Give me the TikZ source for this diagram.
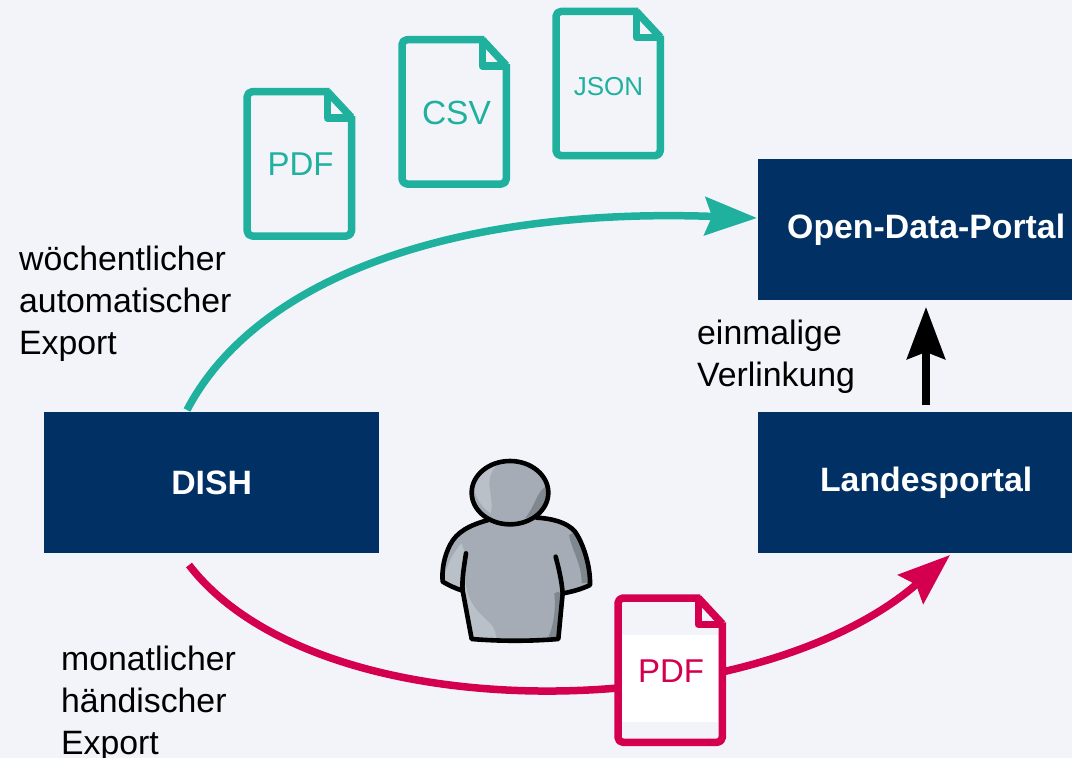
\documentclass[tikz,border=0pt]{standalone}
\usepackage{fontspec}
\setmainfont{Liberation Sans}
\usetikzlibrary{arrows.meta}
\definecolor{pagebg}{HTML}{F2F4F9}
\definecolor{navy}{HTML}{003064}
\definecolor{tealc}{HTML}{1FB19E}
\definecolor{redc}{HTML}{D4004F}
\definecolor{persbody}{HTML}{A5ACB5}
\definecolor{perslight}{HTML}{B9C0C8}
\definecolor{persdark}{HTML}{7F878F}
\tikzset{
  portal/.style={fill=navy,draw=none,text=white,font=\fontsize{33.8}{40}\selectfont\bfseries,anchor=north west,inner sep=0pt},
  lbl/.style={font=\fontsize{33.8}{42}\selectfont,anchor=north west,inner sep=0pt,align=left,text=black},
  flow/.style={line width=7.5pt,line cap=butt},
  bigtip/.style={-{Stealth[length=52pt,width=38pt,inset=7pt]}},
  docline/.style={line width=7.5pt,line join=round},
  perso/.style={draw=black,line width=4.6pt,line join=round,line cap=round}
}
\newcommand{\docicon}[4]{%
  \begin{scope}[shift={(#1,#2)}]
    \path[fill=pagebg] (3.7,8) -- (86,3.7) -- (108,28) -- (108,148) -- (3.7,148) -- cycle;
    #4
    \draw[docline,draw=#3,rounded corners=5pt] (86,3.7) -- (3.7,3.7) -- (3.7,148) -- (108,148) -- (108,28);
    \draw[docline,draw=#3] (84,3.7) -- (108,29.5);
    \draw[docline,draw=#3] (84,3.7) -- (84,30) -- (108,30);
  \end{scope}}
\begin{document}
\begin{tikzpicture}[x=1pt,y=-1pt]
\useasboundingbox (0,0) rectangle (1072,758);
\fill[pagebg] (0,0) rectangle (1072,758);

\node[portal,minimum width=314pt,minimum height=141pt] (odp) at (758,159) {\hspace*{22pt}Open-Data-Portal};
\node[portal,minimum width=314pt,minimum height=141pt] (landes) at (758,412) {\hspace*{22pt}Landesportal};
\node[portal,minimum width=335pt,minimum height=141pt] (dish) at (44,412) {DISH};

\node[lbl] (lblw) at (19,246) {wöchentlicher\\automatischer\\Export};
\node[lbl] (lblm) at (61,646) {monatlicher\\händischer\\Export};
\node[lbl] (lble) at (697,320) {einmalige\\Verlinkung};

\coordinate (tealstart) at (187,410);
\coordinate (tealend) at (757,218);
\coordinate (redstart) at (189,565);
\coordinate (redend) at (950,555);
\coordinate (blackstart) at (926,405);
\coordinate (blackend) at (926,307);

\draw[flow,draw=tealc,bigtip] (tealstart) .. controls (255,280) and (450,207) .. (tealend);
\draw[flow,draw=redc,bigtip] (redstart) .. controls (320,735) and (755,725) .. (redend);
\draw[flow,draw=black,bigtip] (blackstart) -- (blackend);

\docicon{243.5}{88}{tealc}{}
\node[text=tealc,font=\fontsize{33}{33}\selectfont,inner sep=0pt] (pdfteal) at (300.5,164) {PDF};
\docicon{398.3}{36}{tealc}{}
\node[text=tealc,font=\fontsize{33.5}{33.5}\selectfont,inner sep=0pt] (csv) at (456.5,113) {CSV};
\docicon{552.3}{7.7}{tealc}{}
\node[text=tealc,font=\fontsize{26}{26}\selectfont,inner sep=0pt] (json) at (608.5,87) {JSON};
\docicon{614.3}{594.3}{redc}{\fill[white] (7,41) rectangle (104,127.5);}
\node[text=redc,font=\fontsize{33}{33}\selectfont,inner sep=0pt] (pdfred) at (671,671) {PDF};

\begin{scope}[shift={(420,450)},x=0.33333pt,y=-0.33333pt]
  \path[fill=persbody] (205,210) .. controls (150,225) and (110,245) .. (90,285)
    .. controls (72,320) and (65,360) .. (68,395) .. controls (85,405) and (105,415) .. (128,422)
    -- (155,567) -- (415,567) -- (428,430) .. controls (460,425) and (490,415) .. (510,405)
    .. controls (512,350) and (490,280) .. (465,245) .. controls (440,215) and (390,205) .. (350,203) -- cycle;
  \fill[perslight] (125,280) .. controls (105,300) and (75,350) .. (72,392) -- (130,418) -- (135,310) -- cycle;
  \fill[perslight] (135,390) .. controls (145,470) and (180,490) .. (215,525) .. controls (225,540) and (228,550) .. (228,564) -- (158,564) -- (128,420) -- cycle;
  \fill[persdark] (447,255) .. controls (455,300) and (485,340) .. (485,400) -- (505,398) .. controls (508,350) and (485,280) .. (462,248) -- cycle;
  \fill[persdark] (403,430) .. controls (408,480) and (400,530) .. (385,562) -- (413,562) -- (424,432) -- (415,425) -- cycle;
  \draw[perso] (205,210) .. controls (150,225) and (110,245) .. (90,285)
    .. controls (72,320) and (65,360) .. (68,395) .. controls (85,405) and (105,415) .. (128,422);
  \draw[perso] (138,310) .. controls (132,350) and (125,390) .. (128,422) -- (155,567) .. controls (240,574) and (330,574) .. (415,567) -- (428,430) .. controls (425,390) and (415,350) .. (407,320);
  \draw[perso] (428,430) .. controls (460,425) and (490,415) .. (510,405)
    .. controls (512,350) and (490,280) .. (465,245) .. controls (440,215) and (390,205) .. (350,203);
  \fill[persbody] (270,128) ellipse [x radius=115,y radius=95];
  \fill[perslight] (235,42) .. controls (205,65) and (205,100) .. (212,135) .. controls (216,160) and (216,175) .. (212,190) .. controls (175,165) and (155,120) .. (165,90) .. controls (175,65) and (205,40) .. (235,42) -- cycle;
  \fill[persdark] (377,110) .. controls (350,125) and (345,170) .. (315,205) .. controls (350,195) and (385,160) .. (382,125) -- cycle;
  \draw[perso] (270,128) ellipse [x radius=115,y radius=95];
\end{scope}
\end{tikzpicture}
\end{document}
